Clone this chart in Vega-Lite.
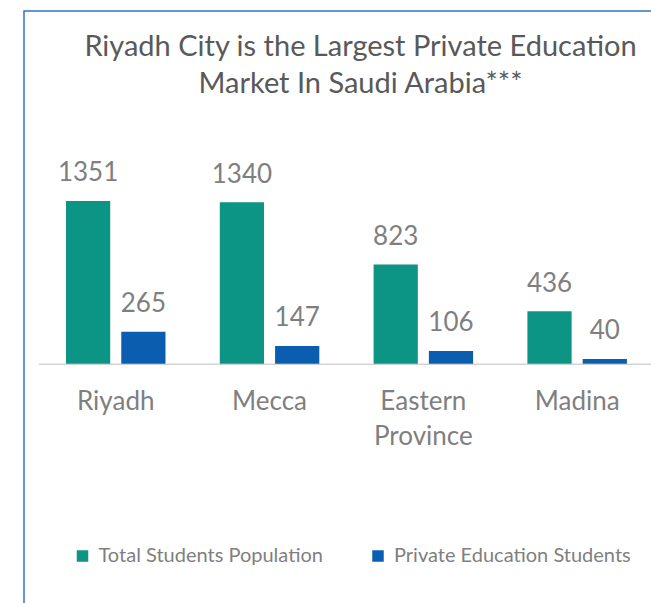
{
  "$schema": "https://vega.github.io/schema/vega-lite/v6.json",
  "width": 640,
  "height": 600,
  "autosize": {"type": "none"},
  "padding": {"left": 24, "top": 11, "right": 0, "bottom": 0},
  "background": "#ffffff",
  "config": {
    "view": {"stroke": "#2e75c4", "strokeWidth": 1.5},
    "font": "Lato"
  },
  "title": {
    "text": ["Riyadh City is the Largest Private Education", "Market In Saudi Arabia***"],
    "font": "Lato",
    "fontSize": 29,
    "fontWeight": "normal",
    "color": "#595959",
    "anchor": "middle",
    "dx": 16.5,
    "lineHeight": 37,
    "baseline": "top",
    "offset": -88
  },
  "data": {
    "values": [
      {"city": "Riyadh", "series": "Total Students Population", "value": 1351},
      {"city": "Riyadh", "series": "Private Education Students", "value": 265},
      {"city": "Mecca", "series": "Total Students Population", "value": 1340},
      {"city": "Mecca", "series": "Private Education Students", "value": 147},
      {"city": "Eastern Province", "series": "Total Students Population", "value": 823},
      {"city": "Eastern Province", "series": "Private Education Students", "value": 106},
      {"city": "Madina", "series": "Total Students Population", "value": 436},
      {"city": "Madina", "series": "Private Education Students", "value": 40}
    ]
  },
  "encoding": {
    "x": {
      "field": "city",
      "type": "nominal",
      "sort": null,
      "scale": {"range": [14.3, 630.6], "paddingInner": 0.353, "paddingOuter": 0.18},
      "axis": {
        "orient": "bottom",
        "offset": -247.3,
        "title": null,
        "domainColor": "#bfbfbf",
        "domainWidth": 1,
        "ticks": false,
        "tickSize": 0,
        "labelPadding": 25,
        "labelAngle": 0,
        "labelFont": "Lato",
        "labelFontSize": 26,
        "labelColor": "#7f7f7f",
        "labelLineHeight": 35,
        "labelExpr": "split(datum.label, ' ')"
      }
    },
    "xOffset": {
      "field": "series",
      "type": "nominal",
      "sort": ["Total Students Population", "Private Education Students"],
      "scale": {"paddingInner": 0.2, "paddingOuter": 0}
    },
    "y": {
      "field": "value",
      "type": "quantitative",
      "scale": {"domain": [0, 1500], "range": [352.7, 171.95], "nice": false, "zero": true},
      "axis": null
    }
  },
  "layer": [
    {
      "mark": {"type": "bar"},
      "encoding": {
        "color": {
          "field": "series",
          "type": "nominal",
          "sort": ["Total Students Population", "Private Education Students"],
          "scale": {
            "domain": ["Total Students Population", "Private Education Students"],
            "range": ["#0c9584", "#0b5db0"]
          },
          "legend": {
            "title": null,
            "orient": "none",
            "legendX": 48.5,
            "legendY": 535,
            "direction": "horizontal",
            "symbolType": "square",
            "symbolSize": 132,
            "symbolStrokeWidth": 0,
            "labelFont": "Lato",
            "labelFontSize": 20,
            "labelColor": "#7f7f7f",
            "labelOffset": 6,
            "columnPadding": 44.5,
            "labelLimit": 400
          }
        }
      }
    },
    {
      "mark": {
        "type": "text",
        "baseline": "alphabetic",
        "dy": -19.5,
        "font": "Lato",
        "fontSize": 26,
        "color": "#7f7f7f"
      },
      "encoding": {
        "text": {"field": "value", "type": "quantitative"}
      }
    }
  ]
}
